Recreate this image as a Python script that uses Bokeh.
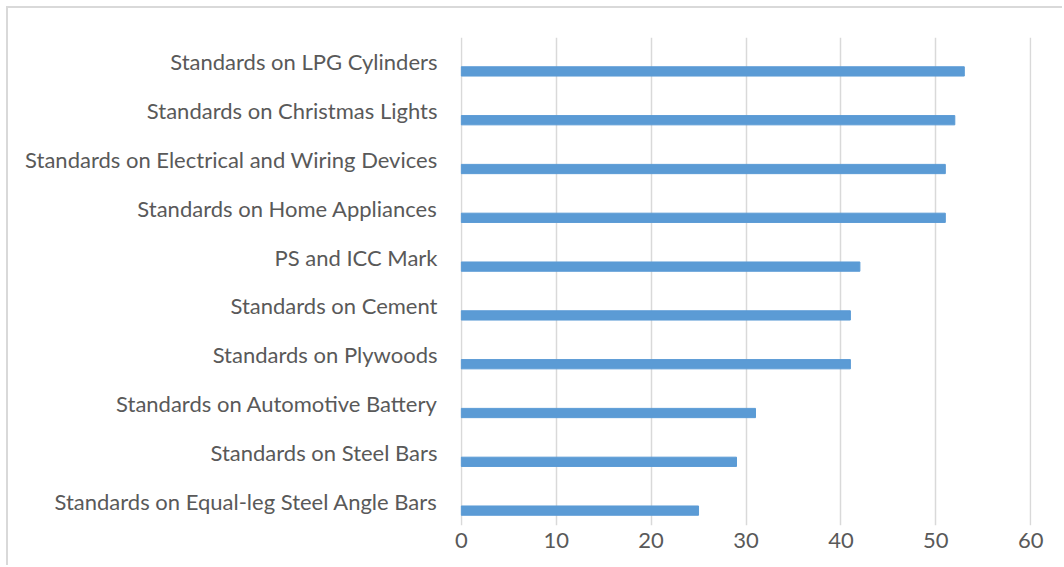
from bokeh.plotting import figure
from bokeh.models import FactorRange, FixedTicker, Range1d
from bokeh.transform import dodge
from bokeh.embed import file_html
from bokeh.resources import INLINE

categories = [
    "Standards on LPG Cylinders",
    "Standards on Christmas Lights",
    "Standards on Electrical and Wiring Devices",
    "Standards on Home Appliances",
    "PS and ICC Mark",
    "Standards on Cement",
    "Standards on Plywoods",
    "Standards on Automotive Battery",
    "Standards on Steel Bars",
    "Standards on Equal-leg Steel Angle Bars",
]
values = [53, 52, 51, 51, 42, 41, 41, 31, 29, 25]
x_ticks = [0, 10, 20, 30, 40, 50, 60]

factors = list(reversed(categories))

p = figure(
    width=1056, height=559,
    y_range=FactorRange(factors=factors),
    x_range=Range1d(-0.08, 60.08),
    output_backend="svg", toolbar_location=None,
    min_border_left=452, min_border_right=33,
    min_border_top=29, min_border_bottom=42,
)
p.styles = {
    "margin-left": "6px", "margin-top": "6px",
    "border-top": "2px solid #D9D9D9", "border-left": "2px solid #D9D9D9",
}
p.outline_line_color = None

src = dict(cat=categories, val=values)
p.hbar(y=dodge("cat", -0.195, range=p.y_range), right="val", left=0, height=0.19,
       source=src, fill_color="#5B9BD5", line_color="#5B9BD5")

p.xaxis.ticker = FixedTicker(ticks=x_ticks)
p.xaxis.axis_line_color = None
p.xaxis.major_tick_line_color = None
p.xaxis.minor_tick_line_color = None
p.xaxis.major_label_text_font = "Lato"
p.xaxis.major_label_text_font_size = "22px"
p.xaxis.major_label_text_color = "#595959"
p.xaxis.major_label_standoff = 1

p.yaxis.axis_line_color = None
p.yaxis.major_tick_line_color = None
p.yaxis.minor_tick_line_color = None
p.yaxis.major_label_text_font = "Lato"
p.yaxis.major_label_text_font_size = "22px"
p.yaxis.major_label_text_color = "#595959"
p.yaxis.major_label_standoff = 17

p.xgrid.ticker = FixedTicker(ticks=x_ticks)
p.xgrid.grid_line_color = "#D9D9D9"
p.xgrid.grid_line_width = 1.5
p.ygrid.grid_line_color = None

open("out.html", "w").write(file_html(p, INLINE))
